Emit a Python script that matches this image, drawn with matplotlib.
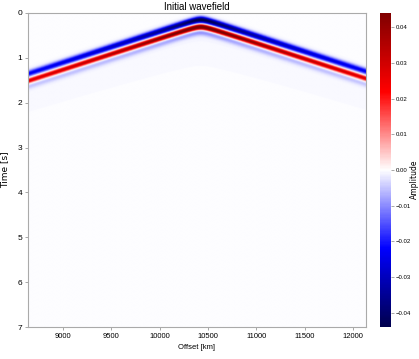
import numpy as np
import matplotlib
matplotlib.use("Agg")
import matplotlib.pyplot as plt

# axes range
offset_range = [8642, 12131]   # km
time_range = [0.0, 7.0]        # s

# wavefront parameters
apex_offset = 10420
apex_time = 0.33
velocity = 1435.0
source_depth = 60.0
apex_amp = 0.058
decay_len = 583.0

# wavelet lobes: relative delay [s], relative amplitude, width [s]
lobe_delay = [-0.16, 0.0, 0.12]
lobe_amp = [-0.8, 1.0, -0.15]
lobe_width = [0.048, 0.038, 0.05]

background = -0.0003
clim = 0.044
cbar_ticks = [-0.04, -0.03, -0.02, -0.01, 0.0, 0.01, 0.02, 0.03, 0.04]
x_ticks = [9000, 9500, 10000, 10500, 11000, 11500, 12000]
y_ticks = [0, 1, 2, 3, 4, 5, 6, 7]

x = np.linspace(offset_range[0], offset_range[1], 420)
t = np.linspace(time_range[0], time_range[1], 900)
X, T = np.meshgrid(x, t)
dx = X - apex_offset
r = np.sqrt(source_depth**2 + dx**2)
t_arr = apex_time + (r - source_depth) / velocity
amp = apex_amp * np.sqrt(decay_len / (decay_len + np.abs(dx)))
tau = T - t_arr

field = np.full(X.shape, background)
for d, a, w in zip(lobe_delay, lobe_amp, lobe_width):
    field += amp * a * np.exp(-0.5 * ((tau - d) / w) ** 2)
# faint haze trailing the wavefront
tail = np.where(tau > 0.12, np.exp(-(tau - 0.12) / 0.25), 0.0)
field -= amp * 0.015 * tail

fig = plt.figure(figsize=(4.19, 3.59), dpi=100)
ax = fig.add_axes([0.0668, 0.0891, 0.8067, 0.8747])
im = ax.imshow(field, cmap="seismic", vmin=-clim, vmax=clim, aspect="auto",
               extent=[offset_range[0], offset_range[1], time_range[1], time_range[0]],
               interpolation="bilinear")

narrow = ["Liberation Sans", "DejaVu Sans"]
ax.set_xticks(x_ticks)
ax.set_yticks(y_ticks)
ax.set_xticklabels([str(v) for v in x_ticks], family=narrow, fontsize=5.5)
ax.set_yticklabels([str(v) for v in y_ticks], family=narrow, fontsize=6)
ax.tick_params(length=2, width=0.6, color="#999999", pad=2)
for s in ax.spines.values():
    s.set_color("#aaaaaa")
    s.set_linewidth(0.8)
ax.set_title("Initial wavefield", family=narrow, fontsize=7, pad=2)
ax.set_xlabel("Offset [km]", family=narrow, fontsize=5.5, labelpad=3)
ax.set_ylabel("Time [s]", fontsize=6.5, labelpad=6)

cax = fig.add_axes([0.908, 0.0891, 0.026, 0.8747])
cb = fig.colorbar(im, cax=cax, ticks=cbar_ticks)
cb.outline.set_visible(False)
cax.set_yticklabels([f"{v:.2f}".replace("-", "\u2212") for v in cbar_ticks],
                    family=narrow, fontsize=4.3)
cax.tick_params(length=2, width=0.6, color="#999999", pad=1)
fig.text(0.999, 0.5, "Amplitude", rotation=90, fontsize=5.5,
         ha="right", va="center")

fig.savefig("out.png", dpi=100)
